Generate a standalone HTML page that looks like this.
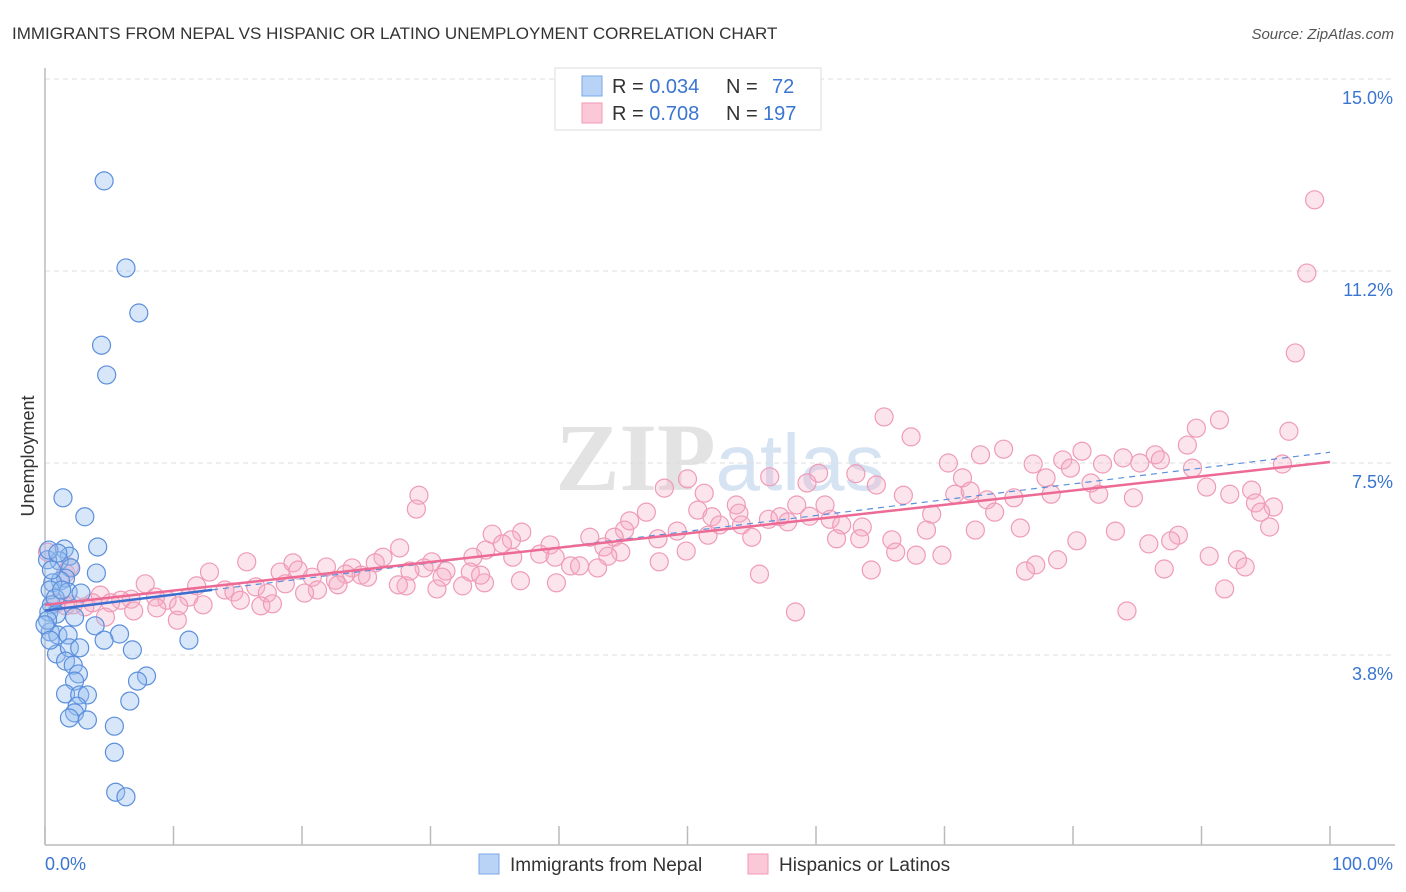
<!DOCTYPE html>
<html><head><meta charset="utf-8"><style>
body{margin:0;background:#fff;font-family:"Liberation Sans",sans-serif;}
svg{display:block}
</style></head><body>
<svg id="chart" width="1406" height="892">
<text x="12" y="39" font-size="17" fill="#333">IMMIGRANTS FROM NEPAL VS HISPANIC OR LATINO UNEMPLOYMENT CORRELATION CHART</text>
<text x="1394" y="39" font-size="15" fill="#555" font-style="italic" text-anchor="end">Source: ZipAtlas.com</text>
<text x="720" y="490" font-size="96" fill="#e3e3e3" text-anchor="middle" font-family="Liberation Serif,serif" font-weight="bold">ZIP<tspan fill="#d6e3f3" font-family="Liberation Sans,sans-serif" font-weight="normal" font-size="80">atlas</tspan></text>
<g id="grid"></g>
<g id="points"></g>
<g id="trends"></g>
<text transform="translate(34,456) rotate(-90)" font-size="18" fill="#333" text-anchor="middle">Unemployment</text>
<text x="45" y="870" font-size="18" fill="#3a75d0">0.0%</text>
<text x="1393" y="870" font-size="18" fill="#3a75d0" text-anchor="end">100.0%</text>
<g>
<rect x="555" y="68" width="266" height="62" fill="#fff" stroke="#ddd"/>
<rect x="582" y="76" width="20" height="20" fill="#b8d3f5" stroke="#7aa7e6"/>
<rect x="582" y="103" width="20" height="20" fill="#fbc8d8" stroke="#f09ab6"/>
<text x="612" y="93" font-size="20" fill="#333">R = <tspan fill="#3a75d0">0.034</tspan><tspan x="726">N =</tspan><tspan x="772" fill="#3a75d0">72</tspan></text>
<text x="612" y="120" font-size="20" fill="#333">R = <tspan fill="#3a75d0">0.708</tspan><tspan x="726">N =</tspan><tspan x="763" fill="#3a75d0">197</tspan></text>
</g>
<g>
<rect x="479" y="854" width="20" height="20" fill="#b8d3f5" stroke="#7aa7e6"/>
<text x="510" y="871" font-size="19" fill="#333">Immigrants from Nepal</text>
<rect x="748" y="854" width="20" height="20" fill="#fbc8d8" stroke="#f09ab6"/>
<text x="779" y="871" font-size="19" fill="#333">Hispanics or Latinos</text>
</g>
</svg>
<script>
const yTicks=[3.75,7.5,11.25,15];
const yTickLabels=["3.8%","7.5%","11.2%","15.0%"];
const xTicks=[0,10,20,30,40,50,60,70,80,90,100];
const blueX=[4.6,6.3,7.3,4.4,4.8,1.4,3.1,4.1,1.5,1.9,1.1,2.0,4.0,1.6,1.2,0.6,0.4,1.8,2.8,0.5,0.3,0.9,2.3,3.9,5.8,0.4,1.0,1.8,4.6,11.2,6.8,0.9,1.9,2.7,1.6,2.2,2.6,7.9,7.2,2.3,1.6,2.7,3.3,6.6,2.5,2.3,1.9,3.3,5.4,5.4,5.5,6.3,0.2,0.5,0.2,0.8,1.3,0.0,0.4,0.3,1.0];
const blueY=[13.01,11.31,10.43,9.80,9.22,6.82,6.45,5.86,5.82,5.68,5.59,5.45,5.35,5.25,5.20,5.16,5.02,4.98,4.96,4.73,4.59,4.55,4.49,4.32,4.16,4.20,4.14,4.14,4.04,4.04,3.85,3.77,3.89,3.89,3.63,3.55,3.38,3.34,3.24,3.24,2.99,2.97,2.97,2.85,2.75,2.62,2.52,2.48,2.36,1.85,1.07,0.98,5.61,5.41,4.43,4.86,5.02,4.34,4.04,5.80,5.74];
const pinkX=[98.8,98.2,97.3,65.3,91.4,67.4,96.8,89.6,88.9,80.7,74.6,70.3,72.8,83.9,86.4,86.8,76.9,79.2,79.8,82.3,85.2,89.3,96.3,56.4,60.2,63.1,59.3,64.7,71.4,48.2,50.0,77.9,81.4,92.2,90.4,93.9,94.2,95.6,94.6,84.7,82.0,70.8,72.0,73.3,75.4,78.3,66.8,60.7,58.5,53.8,51.3,29.1,28.9,50.8,46.8,45.5,51.9,54.0,56.3,54.2,52.5,59.5,57.2,61.1,57.8,69.0,73.9,62.0,68.6,63.6,72.4,75.9,83.3,95.3,88.2,87.6,80.3,85.9,55.0,51.6,49.2,45.1,44.3,42.4,47.7,34.8,37.1,36.3,35.6,39.3,38.5,34.3,33.3,39.7,36.4,43.5,44.8,43.8,66.2,67.8,69.8,61.6,63.4,64.3,65.9,49.9,47.8,90.6,92.8,93.4,87.1,78.8,77.1,76.3,27.6,26.3,25.7,30.1,29.5,31.2,33.1,30.9,34.2,32.5,39.8,40.9,43.0,41.6,55.6,15.7,12.8,18.3,19.3,19.7,21.9,23.9,24.6,23.4,25.1,20.8,28.4,28.1,22.6,21.2,22.8,16.4,18.7,20.2,11.8,7.8,11.2,14.0,14.7,17.3,15.2,12.3,9.5,8.6,10.4,6.7,5.9,4.3,5.1,3.7,3.1,2.2,1.6,0.9,0.2,1.6,1.9,4.7,10.3,6.9,8.7,16.8,17.7,84.2,58.4,91.8,37.0,30.5,27.5,33.9];
const pinkY=[12.64,11.21,9.65,8.40,8.34,8.01,8.12,8.18,7.85,7.73,7.77,7.50,7.66,7.60,7.66,7.56,7.48,7.56,7.40,7.48,7.50,7.40,7.48,7.23,7.30,7.29,7.11,7.07,7.21,7.01,7.19,7.21,7.11,6.89,7.03,6.97,6.72,6.64,6.54,6.82,6.89,6.89,6.95,6.78,6.82,6.89,6.87,6.68,6.68,6.68,6.91,6.87,6.60,6.58,6.54,6.37,6.45,6.52,6.40,6.29,6.29,6.46,6.45,6.40,6.35,6.50,6.54,6.29,6.19,6.25,6.19,6.23,6.17,6.25,6.09,5.98,5.98,5.92,6.05,6.09,6.17,6.19,6.05,6.05,6.02,6.11,6.15,6.00,5.92,5.90,5.72,5.80,5.66,5.66,5.66,5.86,5.76,5.68,5.76,5.70,5.70,6.02,6.02,5.41,6.00,5.78,5.57,5.68,5.61,5.47,5.43,5.61,5.51,5.39,5.84,5.66,5.55,5.57,5.45,5.39,5.37,5.27,5.16,5.10,5.16,5.49,5.45,5.49,5.33,5.57,5.37,5.37,5.55,5.41,5.47,5.45,5.31,5.33,5.27,5.27,5.39,5.10,5.21,5.02,5.12,5.08,5.14,4.96,5.10,5.14,4.88,5.02,4.98,4.96,4.82,4.73,4.82,4.88,4.71,4.84,4.82,4.92,4.77,4.77,4.69,4.73,4.71,4.77,5.76,5.35,5.47,4.49,4.43,4.61,4.67,4.71,4.75,4.61,4.59,5.04,5.20,5.04,5.12,5.31];
const pinkTrend=[4.73,7.52];
const blueTrend=[4.62,7.71];
const NS="http://www.w3.org/2000/svg";
const xS=v=>45+v*12.85, yS=v=>847-v*51.2;
function mk(tag,attrs,parent){const e=document.createElementNS(NS,tag);for(const k in attrs)e.setAttribute(k,attrs[k]);parent.appendChild(e);return e;}
const grid=document.getElementById('grid');
yTicks.forEach((t,i)=>{
 const l=mk('line',{x1:45,x2:1395,y1:yS(t),y2:yS(t),stroke:'#ddd','stroke-dasharray':'5,4'},grid);
 
 
 const tx=mk('text',{x:1393,y:yS(t)+25,'font-size':18,fill:'#3a75d0','text-anchor':'end'},grid);
 tx.textContent=yTickLabels[i];
 
 
});
const ax=mk('line',{x1:45,x2:45,y1:68,y2:845,stroke:'#bbb','stroke-width':1.5},grid);


const bx=mk('line',{x1:45,x2:1395,y1:845,y2:845,stroke:'#bbb','stroke-width':1.5},grid);


xTicks.forEach(t=>{
 const l=mk('line',{x1:xS(t),x2:xS(t),y1:826,y2:845,stroke:'#bbb','stroke-width':1.5},grid);
 
 
});
const pts=document.getElementById('points');
pinkX.forEach((x,i)=>{
 const c=mk('circle',{cx:xS(x),cy:yS(pinkY[i]),r:9,fill:'rgba(247,170,195,0.32)',stroke:'#ef9bb7','stroke-width':1.2},pts);
 
 
});
blueX.forEach((x,i)=>{
 const c=mk('circle',{cx:xS(x),cy:yS(blueY[i]),r:9,fill:'rgba(150,190,240,0.38)',stroke:'#5b8fdc','stroke-width':1.2},pts);
 
 
});
const tr=document.getElementById('trends');
const bd=mk('line',{x1:xS(13),y1:yS(blueTrend[0]+(blueTrend[1]-blueTrend[0])*0.13),x2:xS(100),y2:yS(blueTrend[1]),stroke:'#5b8fdc','stroke-width':1.2,'stroke-dasharray':'6,5'},tr);


const pl=mk('line',{x1:xS(0),y1:yS(pinkTrend[0]),x2:xS(100),y2:yS(pinkTrend[1]),stroke:'#ec6a94','stroke-width':2.5},tr);


const bl=mk('line',{x1:xS(0),y1:yS(blueTrend[0]),x2:xS(13),y2:yS(blueTrend[0]+(blueTrend[1]-blueTrend[0])*0.13),stroke:'#3a6fd0','stroke-width':2.5},tr);


</script>
</body></html>
